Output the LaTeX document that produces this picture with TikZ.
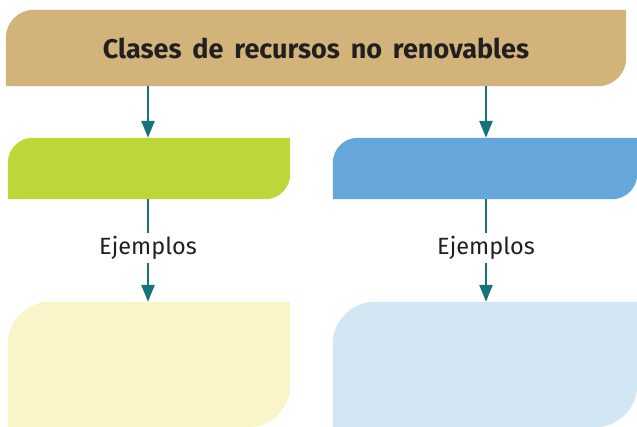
\documentclass[tikz,border=0pt]{standalone}
\usepackage{fontspec}
\setmainfont{Fira Sans}
\usepackage{xcolor}
\usepackage{tikz}
\usetikzlibrary{arrows.meta,positioning,calc,backgrounds}

\definecolor{titlefill}{HTML}{D2B47A}
\definecolor{greenfill}{HTML}{BDD739}
\definecolor{bluefill}{HTML}{65A7DA}
\definecolor{paleyellow}{HTML}{FAF5C8}
\definecolor{paleblue}{HTML}{D2E6F4}
\definecolor{arrowteal}{HTML}{17737A}
\definecolor{textdark}{HTML}{231F20}

% leaf shaped fill: rounded top left and bottom right corners
\newcommand{\leafshape}[3]{%
  \fill[#2] (#1.south west) -- ($(#1.north west)+(0,-#3)$)
    arc[start angle=180, end angle=90, radius=#3] -- (#1.north east)
    -- ($(#1.south east)+(0,#3)$)
    arc[start angle=0, end angle=-90, radius=#3] -- cycle;}

\begin{document}
\begin{tikzpicture}[x=1pt, y=1pt,
    box/.style={rectangle, inner sep=0pt, text=textdark},
    label/.style={font=\fontsize{23.5}{28}\selectfont, text=textdark, inner sep=3pt},
    arr/.style={-{Triangle[length=17pt, width=13pt]}, line width=2.6pt, arrowteal},
    plain/.style={line width=2.6pt, arrowteal}
]
    \useasboundingbox (0,0) rectangle (637,427);
    \node[box, minimum width=620pt, minimum height=76pt, font=\fontsize{27}{32}\selectfont\bfseries] (title) at (316,379) {Clases\, de\, recursos\, no\, renovables};
    \node[box, minimum width=282pt, minimum height=61pt] (renew) at (149,258.5) {};
    \node[box, minimum width=304pt, minimum height=61pt] (nonrenew) at (485,258.5) {};
    \node[box, minimum width=282pt, minimum height=125pt] (exleft) at (149,62.5) {};
    \node[box, minimum width=304pt, minimum height=125pt] (exright) at (485,62.5) {};
    \node[label] (ejleft) at (148,179) {Ejemplos};
    \node[label] (ejright) at (486,179) {Ejemplos};
    \begin{pgfonlayer}{background}
        \leafshape{title}{titlefill}{28pt}
        \leafshape{renew}{greenfill}{25pt}
        \leafshape{nonrenew}{bluefill}{25pt}
        \leafshape{exleft}{paleyellow}{42pt}
        \leafshape{exright}{paleblue}{42pt}
    \end{pgfonlayer}
    \draw[arr] (title.south -| ejleft) -- (renew.north -| ejleft);
    \draw[arr] (title.south -| ejright) -- (nonrenew.north -| ejright);
    \draw[plain] (renew.south -| ejleft) -- (ejleft);
    \draw[plain] (nonrenew.south -| ejright) -- (ejright);
    \draw[arr] (ejleft) -- (exleft.north -| ejleft);
    \draw[arr] (ejright) -- (exright.north -| ejright);
\end{tikzpicture}
\end{document}
